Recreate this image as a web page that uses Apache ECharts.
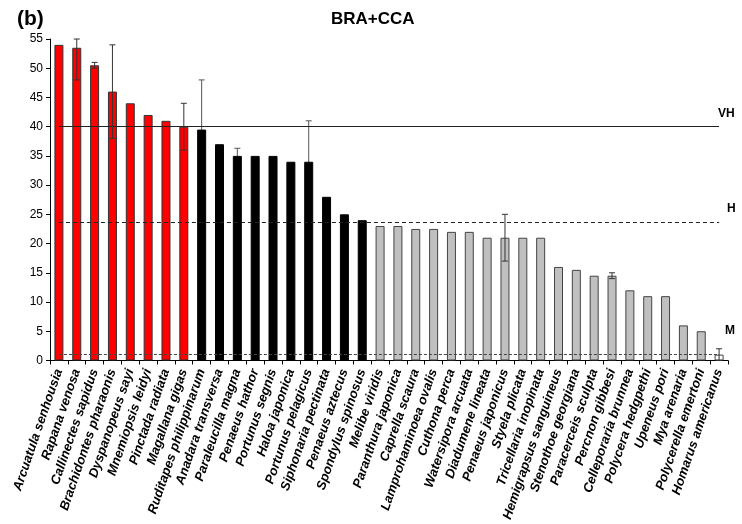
<!DOCTYPE html>
<html>
<head>
<meta charset="utf-8">
<script src="https://cdn.jsdelivr.net/npm/echarts@6/dist/echarts.min.js"></script>
<style>
  html, body { margin: 0; padding: 0; background: #fff; }
  #chart { width: 742px; height: 524px; }
</style>
</head>
<body>
<div id="chart"></div>
<script>
// Species grouped by impact class (red = VH, black = H, grey = M, white = below M)
const redSpecies = ['Arcuatula senhousia', 'Rapana venosa', 'Callinectes sapidus', 'Brachidontes pharaonis',
  'Dyspanopeus sayi', 'Mnemiopsis leidyi', 'Pinctada radiata', 'Magallana gigas'];
const redValues = [54, 53.5, 50.5, 46, 44, 42, 41, 40];

const blackSpecies = ['Ruditapes philippinarum', 'Anadara transversa', 'Paraleucilla magna', 'Penaeus hathor',
  'Portunus segnis', 'Haloa japonica', 'Portunus pelagicus', 'Siphonaria pectinata', 'Penaeus aztecus',
  'Spondylus spinosus'];
const blackValues = [39.5, 37, 35, 35, 35, 34, 34, 28, 25, 24];

const greySpecies = ['Melibe viridis', 'Paranthura japonica', 'Caprella scaura', 'Lamprohaminoea ovalis',
  'Cuthona perca', 'Watersipora arcuata', 'Diadumene lineata', 'Penaeus japonicus', 'Styela plicata',
  'Tricellaria inopinata', 'Hemigrapsus sanguineus', 'Stenothoe georgiana', 'Paracerceis sculpta',
  'Percnon gibbesi', 'Celleporaria brunnea', 'Polycera hedgpethi', 'Upeneus pori', 'Mya arenaria',
  'Polycerella emertoni'];
const greyValues = [23, 23, 22.5, 22.5, 22, 22, 21, 21, 21, 21, 16, 15.5, 14.5, 14.5, 12, 11, 11, 6, 5];

const whiteSpecies = ['Homarus americanus'];
const whiteValues = [1];

// Error bars: [species, low, high]
const errorBars = [
  ['Rapana venosa', 48, 55],
  ['Callinectes sapidus', 50, 51],
  ['Brachidontes pharaonis', 38, 54],
  ['Magallana gigas', 36, 44],
  ['Ruditapes philippinarum', 31, 48],
  ['Paraleucilla magna', 33.7, 36.3],
  ['Portunus pelagicus', 27, 41],
  ['Penaeus japonicus', 17, 25],
  ['Percnon gibbesi', 14, 15],
  ['Homarus americanus', 0, 2]
];

// Threshold lines
const thresholdNames = ['VH', 'H', 'M'];
const thresholdValues = [40, 23.6, 1];

const yTicks = { min: 0, max: 55, interval: 5 };

const categories = [].concat(redSpecies, blackSpecies, greySpecies, whiteSpecies);

function padded(names, values) {
  return categories.map(c => {
    const i = names.indexOf(c);
    return i >= 0 ? values[i] : '-';
  });
}

const FONT = 'Liberation Sans, Arial, sans-serif';
const first = categories[0];
const last = categories[categories.length - 1];

function barSeries(name, names, values, fill, border) {
  return {
    name: name,
    type: 'bar',
    data: padded(names, values),
    barWidth: 9,
    barGap: '-100%',
    itemStyle: { color: fill, borderColor: border, borderWidth: 1 },
    silent: true,
    z: 2
  };
}

// Whiskers: those on black bars sit beneath the bars, the rest on top
function errorSeries(rows, color, z) {
  return {
    type: 'custom',
    silent: true,
    z: z,
    data: rows.map(e => [categories.indexOf(e[0]), e[1], e[2]]),
    encode: { x: 0, y: [1, 2] },
    renderItem: function (params, api) {
      const x = api.value(0);
      const lo = api.coord([x, api.value(1)]);
      const hi = api.coord([x, api.value(2)]);
      const cap = 3;
      const style = { stroke: color, lineWidth: 1 };
      return {
        type: 'group',
        children: [
          { type: 'line', shape: { x1: lo[0], y1: lo[1], x2: hi[0], y2: hi[1] }, style: style },
          { type: 'line', shape: { x1: hi[0] - cap, y1: hi[1], x2: hi[0] + cap, y2: hi[1] }, style: style },
          { type: 'line', shape: { x1: lo[0] - cap, y1: lo[1], x2: lo[0] + cap, y2: lo[1] }, style: style }
        ]
      };
    }
  };
}
const underBlack = errorBars.filter(e => blackSpecies.indexOf(e[0]) >= 0);
const overOthers = errorBars.filter(e => blackSpecies.indexOf(e[0]) < 0);

const lineStyles = [
  { type: 'solid', color: '#222', width: 1 },
  { type: [4, 3], color: '#222', width: 1.2 },
  { type: [3, 2], color: '#444', width: 1 }
];

const chart = echarts.init(document.getElementById('chart'), null, { renderer: 'canvas' });

const option = {
  animation: false,
  backgroundColor: '#fff',
  title: [
    { text: '(b)', left: 12, top: 4, textStyle: { fontFamily: FONT, fontSize: 21, fontWeight: 'bold', color: '#000' } },
    { text: 'BRA+CCA', left: 326, top: 6, textStyle: { fontFamily: FONT, fontSize: 17, fontWeight: 'bold', color: '#000' } }
  ],
  grid: { left: 50, right: 14, top: 39, bottom: 162, containLabel: false },
  xAxis: {
    type: 'category',
    data: categories,
    axisLine: { lineStyle: { color: '#000', width: 1 } },
    axisTick: { show: true, length: 4, lineStyle: { color: '#000' } },
    axisLabel: {
      interval: 0,
      rotate: 71,
      margin: 9,
      fontFamily: FONT,
      fontSize: 13,
      fontWeight: 'bold',
      fontStyle: 'italic',
      color: '#000'
    }
  },
  yAxis: {
    type: 'value',
    min: yTicks.min,
    max: yTicks.max,
    interval: yTicks.interval,
    splitLine: { show: false },
    axisLine: { show: true, lineStyle: { color: '#000', width: 1 } },
    axisTick: { show: true, length: 4, lineStyle: { color: '#000' } },
    axisLabel: { fontFamily: FONT, fontSize: 12, color: '#000', margin: 7 }
  },
  series: [
    barSeries('VH', redSpecies, redValues, '#ff0000', '#333'),
    barSeries('H', blackSpecies, blackValues, '#000000', '#000'),
    barSeries('M', greySpecies, greyValues, '#c0c0c0', '#444'),
    barSeries('L', whiteSpecies, whiteValues, '#ffffff', '#444'),
    {
      name: 'thresholds',
      type: 'line',
      data: [],
      silent: true,
      markLine: {
        symbol: 'none',
        silent: true,
        label: { show: false },
        data: thresholdValues.map((v, i) => [
          { coord: [first, v], lineStyle: lineStyles[i] },
          { coord: [last, v] }
        ])
      }
    },
    errorSeries(underBlack, '#555', 1),
    errorSeries(overOthers, '#333', 5)
  ]
};

chart.setOption(option);

// Threshold names placed beside the right end of each line
const labelOffsets = [[-1, -13], [8, -14], [6, -24]];
const texts = thresholdNames.map((name, i) => {
  const p = chart.convertToPixel({ gridIndex: 0 }, [categories.length - 1, thresholdValues[i]]);
  return {
    type: 'text',
    x: p[0] + labelOffsets[i][0],
    y: p[1] + labelOffsets[i][1],
    style: {
      text: name,
      fontFamily: FONT,
      fontSize: 12,
      fontWeight: 'bold',
      fill: '#000',
      verticalAlign: 'middle'
    }
  };
});
chart.setOption({ graphic: texts });
</script>
</body>
</html>
